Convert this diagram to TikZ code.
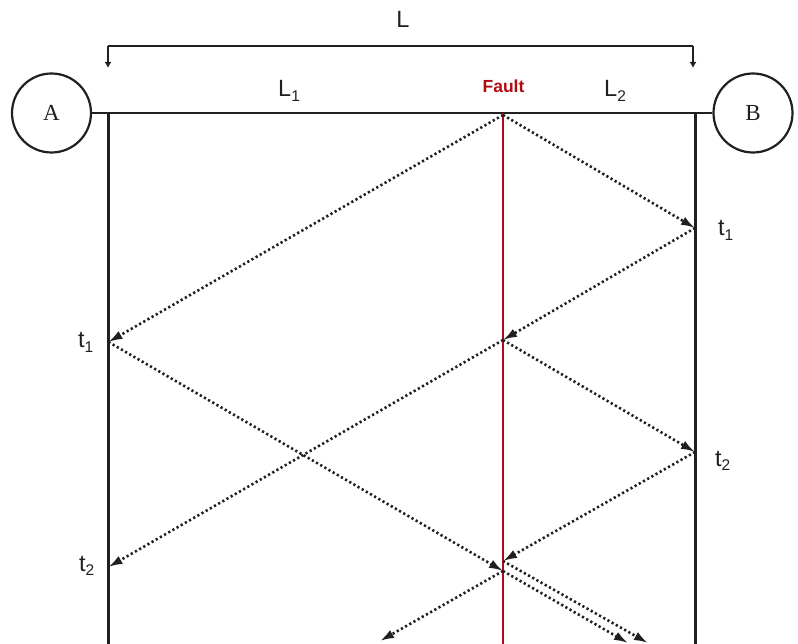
\documentclass[tikz,border=0pt]{standalone}
\usepackage{fontspec}
\setmainfont{Liberation Sans}
\newfontfamily\serifA{Liberation Serif}
\usetikzlibrary{arrows.meta}
\newcommand\lsub[1]{\raisebox{-0.2em}{\fontsize{15.5pt}{15.5pt}\selectfont #1}}
\definecolor{ink}{RGB}{35,31,32}
\definecolor{faultred}{RGB}{178,10,18}
\tikzset{
  line/.style={draw=ink, line width=2.5pt},
  station/.style={circle, draw=ink, line width=2.2pt, minimum size=79pt, inner sep=0pt, font=\serifA\fontsize{23pt}{23pt}\selectfont, text=ink},
  lbl/.style={font=\fontsize{23.5pt}{23.5pt}\selectfont, text=ink, inner sep=0pt, anchor=base west},
  wave/.style={draw=ink, line width=2.6pt, dash pattern=on 2.2pt off 2.6pt, -{Latex[length=14pt,width=9pt]}},
  bracket/.style={draw=ink, line width=2.2pt, -{Latex[length=6pt,width=7pt]}},
}
\begin{document}
\begin{tikzpicture}[x=1pt,y=-1pt]
\useasboundingbox (0,0) rectangle (798,644);
% stations
\node[station] (A) at (51.5,113) {A};
\node[station] (B) at (753,113) {B};
% line and verticals
\coordinate (Atop) at (108.5,113);
\coordinate (Abot) at (108.5,645);
\coordinate (Btop) at (695.5,113);
\coordinate (Bbot) at (695.5,645);
\coordinate (Ftop) at (503,113);
\coordinate (Fbot) at (503,645);
\draw[line] (A.east) -- (B.west);
\draw[line] (Atop) -- (Abot);
\draw[line] (Btop) -- (Bbot);
\draw[draw=faultred, line width=2.6pt] (Ftop) -- (Fbot);
% bracket
\coordinate (Lb1) at (108,46);
\coordinate (Lb2) at (693,46);
\coordinate (La1) at (108,68);
\coordinate (La2) at (693,68);
\draw[bracket] (Lb1) -- (La1);
\draw[bracket] (Lb2) -- (La2);
\draw[draw=ink, line width=2.2pt] (Lb1) -- (Lb2);
% labels
\node[lbl, anchor=base] (Ltxt) at (403,28) {L};
\node[lbl] (L1) at (278,97) {L\lsub{1}};
\node[lbl] (L2) at (604,97) {L\lsub{2}};
\node[font=\bfseries\fontsize{17.5pt}{17.5pt}\selectfont, text=faultred, inner sep=0pt, anchor=base] (Ftxt) at (503.5,93) {Fault};
\node[lbl] (tB1) at (718,236) {t\lsub{1}};
\node[lbl] (tA1) at (78,348) {t\lsub{1}};
\node[lbl] (tB2) at (715,466) {t\lsub{2}};
\node[lbl] (tA2) at (79,571) {t\lsub{2}};
% wave points
\coordinate (F0) at (503,115);
\coordinate (B1) at (695,228);
\coordinate (A1) at (108.5,342);
\coordinate (F1) at (503,340);
\coordinate (B2) at (695,452);
\coordinate (A2) at (108.5,567);
\coordinate (F2a) at (503,561);
\coordinate (F2b) at (503,571);
\coordinate (E1) at (380,641);
\coordinate (E2) at (628,643);
\coordinate (E3) at (648,643);
% waves
\draw[wave] (F0) -- (B1);
\draw[wave] (F0) -- (A1);
\draw[wave] (B1) -- (F1);
\draw[wave] (F1) -- (B2);
\draw[wave] (F1) -- (A2);
\draw[wave] (A1) -- (F2b);
\draw[wave] (B2) -- (F2a);
\draw[wave] (F2b) -- (E1);
\draw[wave] (F2b) -- (E2);
\draw[wave] (F2a) -- (E3);
\end{tikzpicture}
\end{document}
